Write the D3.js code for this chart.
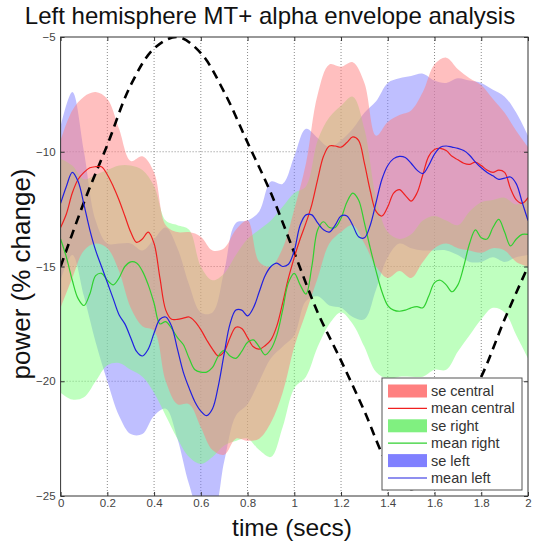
<!DOCTYPE html>
<html>
<head>
<meta charset="utf-8">
<script src="https://cdn.jsdelivr.net/npm/d3@7"></script>
<style>
  body { margin: 0; background: #fff; }
  text { font-family: "Liberation Sans", Arial, sans-serif; }
</style>
</head>
<body>
<div id="chart"></div>
<script>
// mean traces, sampled every 0.025 s from 0 to 2 s
const meanCentral = [-13.3, -12.7, -11.8, -11.2, -10.9, -10.7, -10.65, -10.65, -11.0, -11.5,
  -12.1, -12.8, -13.5, -13.95, -13.8, -13.5, -14.0, -15.5, -16.9, -17.3,
  -17.3, -17.25, -17.2, -17.4, -17.75, -18.2, -18.6, -18.9, -18.7, -18.1,
  -17.65, -17.7, -18.1, -18.5, -18.6, -18.45, -18.2, -17.6, -16.6, -15.5,
  -14.6, -13.8, -13.1, -12.3, -11.2, -10.2, -9.75, -9.75, -9.8, -9.6,
  -9.35, -9.5, -10.5, -11.7, -12.6, -12.8, -12.4, -11.8, -11.65, -11.9,
  -12.15, -11.8, -11.0, -10.2, -9.9, -9.85, -9.95, -10.2, -10.35, -10.5,
  -10.55, -10.45, -10.6, -10.8, -10.9, -10.8, -10.9, -11.6, -12.1, -12.25, -12.0];

const meanRight = [-13.8, -14.6, -15.6, -16.4, -16.7, -16.2, -15.4, -15.3, -15.6, -15.8,
  -15.5, -15.0, -14.8, -14.85, -15.2, -15.8, -16.6, -17.5, -17.4, -17.7,
  -18.1, -18.4, -19.0, -19.5, -19.6, -19.6, -19.4, -18.9, -18.65, -18.9,
  -19.0, -18.7, -18.3, -18.2, -18.5, -18.85, -18.6, -18.0, -16.9, -15.7,
  -15.3, -15.8, -16.2, -15.0, -13.4, -13.05, -13.3, -13.3, -12.9, -12.2,
  -11.8, -12.1, -13.1, -14.2, -15.2, -16.1, -16.7, -16.9, -16.95, -16.9,
  -16.8, -16.75, -16.8, -16.3, -15.7, -15.6, -15.8, -16.1, -15.8, -15.0,
  -14.0, -13.4, -13.75, -13.8, -13.3, -12.95, -13.5, -14.1, -13.8, -13.6, -13.6];

const meanLeft = [-12.25, -11.5, -10.9, -11.3, -12.3, -13.4, -14.3, -15.0, -15.7, -16.4,
  -17.1, -17.5, -18.1, -18.7, -18.9, -18.6, -17.9, -17.3, -17.2, -17.6,
  -18.6, -19.6, -20.3, -20.9, -21.3, -21.5, -21.2, -20.2, -18.8, -17.5,
  -16.9, -16.9, -17.15, -16.8, -16.1, -15.4, -15.0, -14.85, -15.0, -14.9,
  -14.3, -13.2, -12.75, -12.75, -13.1, -13.4, -13.5, -13.2, -12.8, -12.8,
  -13.2, -13.7, -13.75, -13.2, -12.2, -11.2, -10.6, -10.3, -10.2, -10.25,
  -10.5, -10.8, -10.95, -10.6, -10.1, -9.8, -9.75, -9.8, -9.85, -9.95,
  -10.15, -10.45, -10.7, -10.9, -11.05, -11.2, -11.15, -11.1, -11.4, -12.2, -13.0];

// standard error envelopes, sampled every 0.05 s
const seCentralUpper = [-9.5, -8.2, -7.6, -7.4, -7.7, -9.0, -10.4, -10.2, -10.9, -13.2,
  -13.5, -13.5, -13.7, -14.3, -14.2, -13.4, -13.0, -14.8, -15.0, -14.2,
  -12.5, -10.5, -7.5, -6.2, -6.3, -6.1, -7.0, -9.3, -8.7, -8.4,
  -8.2, -7.4, -6.2, -5.9, -6.4, -6.8, -7.1, -7.7, -8.3, -9.1, -9.8];
const seCentralLower = [-16.8, -15.5, -14.3, -14.0, -14.2, -15.2, -16.8, -17.6, -17.8, -20.0,
  -21.0, -21.0, -22.0, -23.0, -23.2, -22.5, -22.6, -22.5, -21.8, -20.5,
  -18.5, -17.0, -15.5, -14.0, -13.5, -13.2, -14.0, -15.0, -15.5, -15.2,
  -15.5, -14.8, -14.2, -14.0, -14.2, -14.3, -14.4, -14.2, -14.3, -14.8, -15.0];

const seRightUpper = [-10.3, -10.6, -11.2, -11.0, -10.8, -10.6, -10.6, -10.8, -11.5, -13.0,
  -13.2, -13.4, -15.0, -15.6, -15.3, -14.5, -13.8, -13.4, -13.0, -12.4,
  -11.8, -11.5, -9.5, -8.5, -8.0, -7.6, -9.0, -12.0, -13.5, -13.8,
  -13.6, -13.0, -12.8, -13.0, -13.2, -12.6, -12.2, -12.1, -12.0, -12.3, -12.0];
const seRightLower = [-20.5, -20.8, -20.7, -20.0, -19.3, -19.2, -19.5, -19.8, -20.5, -21.5,
  -22.5, -23.3, -23.6, -23.3, -22.8, -22.6, -22.5, -23.0, -23.3, -22.0,
  -20.3, -19.8, -18.5, -17.5, -17.0, -17.5, -18.5, -19.6, -19.9, -19.8,
  -19.8, -19.8, -19.5, -19.5, -18.7, -18.0, -17.3, -16.8, -17.0, -18.0, -19.0];

const seLeftUpper = [-8.9, -7.4, -10.0, -13.0, -14.0, -14.0, -14.0, -14.3, -13.8, -13.3,
  -14.2, -15.8, -17.0, -17.0, -15.2, -13.1, -13.0, -12.6, -11.3, -11.4,
  -10.2, -9.0, -9.4, -9.8, -9.5, -9.0, -8.3, -7.8, -7.0, -6.8,
  -6.7, -6.6, -6.9, -7.0, -6.8, -6.9, -7.0, -7.3, -7.6, -8.3, -9.3];
const seLeftLower = [-15.6, -14.5, -16.3, -18.3, -20.0, -21.5, -22.3, -22.3, -21.5, -21.2,
  -22.5, -24.5, -25.8, -25.8, -23.5, -21.5, -21.0, -20.0, -19.0, -18.5,
  -18.0, -16.5, -16.3, -16.7, -16.8, -17.2, -17.3, -16.0, -14.6, -14.0,
  -14.2, -14.3, -14.3, -14.3, -14.5, -14.8, -14.8, -14.6, -14.8, -14.6, -14.5];

// stimulus reference (dashed), every 0.1 s
const stimulus = [-15.0, -12.2, -9.7, -7.1, -5.5, -5.0, -5.7, -7.4, -9.6, -11.8,
  -14.4, -17.0, -19.1, -21.3, -23.6, -24.7, -23.6, -21.6, -19.8, -17.3, -15.0];

const xTicks = [0, 0.2, 0.4, 0.6, 0.8, 1, 1.2, 1.4, 1.6, 1.8, 2];
const yTicks = [-5, -10, -15, -20, -25];
const legendLabels = ['se central', 'mean central', 'se right', 'mean right', 'se left', 'mean left'];

const W = 559, H = 545;
const plot = { left: 60.6, right: 528, top: 37, bottom: 496 };

const svg = d3.select('#chart').append('svg')
  .attr('width', W)
  .attr('height', H);

const x = d3.scaleLinear().domain([0, 2]).range([plot.left, plot.right]);
const y = d3.scaleLinear().domain([-25, -5]).range([plot.bottom, plot.top]);

const atTime = arr => arr.map((v, i) => ({ t: i * 2 / (arr.length - 1), v }));
const band = (up, lo) => up.map((v, i) => ({ t: i * 2 / (up.length - 1), hi: v, lo: lo[i] }));

svg.append('defs').append('clipPath').attr('id', 'clip')
  .append('rect')
  .attr('x', plot.left).attr('y', plot.top)
  .attr('width', plot.right - plot.left).attr('height', plot.bottom - plot.top);

// grid
const grid = svg.append('g').attr('class', 'grid');
grid.selectAll('line.gx')
  .data(xTicks.slice(1, -1))
  .join('line')
  .attr('x1', d => x(d)).attr('x2', d => x(d))
  .attr('y1', plot.top).attr('y2', plot.bottom)
  .attr('stroke', '#8a8a8a').attr('stroke-dasharray', '1,2');
grid.selectAll('line.gy')
  .data(yTicks.slice(1, -1))
  .join('line')
  .attr('y1', d => y(d)).attr('y2', d => y(d))
  .attr('x1', plot.left).attr('x2', plot.right)
  .attr('stroke', '#8a8a8a').attr('stroke-dasharray', '1,2');

// bands (left drawn first, central on top)
const area = d3.area()
  .x(d => x(d.t))
  .y0(d => y(d.lo))
  .y1(d => y(d.hi))
  .curve(d3.curveCatmullRom.alpha(0.5));

const bands = svg.append('g').attr('clip-path', 'url(#clip)');
const bandSpec = [
  { up: seLeftUpper, lo: seLeftLower, color: '#8080ff' },
  { up: seRightUpper, lo: seRightLower, color: '#80ff80' },
  { up: seCentralUpper, lo: seCentralLower, color: '#ff8080' }
];
bands.selectAll('path')
  .data(bandSpec)
  .join('path')
  .attr('d', d => area(band(d.up, d.lo)))
  .attr('fill', d => d.color)
  .attr('fill-opacity', 0.5);

// stimulus dashed line
const line = d3.line()
  .x(d => x(d.t))
  .y(d => y(d.v))
  .curve(d3.curveCatmullRom.alpha(0.5));

svg.append('path')
  .attr('clip-path', 'url(#clip)')
  .attr('d', line(atTime(stimulus)))
  .attr('fill', 'none')
  .attr('stroke', '#000')
  .attr('stroke-width', 2.6)
  .attr('stroke-dasharray', '9,6');

// mean lines
const means = [
  { v: meanCentral, color: '#f02020' },
  { v: meanRight, color: '#30d030' },
  { v: meanLeft, color: '#2020e0' }
];
svg.append('g').attr('clip-path', 'url(#clip)')
  .selectAll('path')
  .data(means)
  .join('path')
  .attr('d', d => line(atTime(d.v)))
  .attr('fill', 'none')
  .attr('stroke', d => d.color)
  .attr('stroke-width', 1.2);

// axes, ticks pointing inward
svg.append('g')
  .attr('transform', `translate(0,${plot.bottom})`)
  .call(d3.axisBottom(x).tickValues(xTicks).tickFormat(d3.format('')).tickSize(-4).tickPadding(3));
svg.append('g')
  .attr('transform', `translate(${plot.left},0)`)
  .call(d3.axisLeft(y).tickValues(yTicks).tickFormat(d3.format('')).tickSize(-4).tickPadding(5));
svg.append('g')
  .attr('transform', `translate(0,${plot.top})`)
  .call(d3.axisTop(x).tickValues(xTicks).tickFormat('').tickSize(-4));
svg.append('g')
  .attr('transform', `translate(${plot.right},0)`)
  .call(d3.axisRight(y).tickValues(yTicks).tickFormat('').tickSize(-4));

svg.selectAll('.domain').remove();
svg.selectAll('.tick line').attr('stroke', '#333');
svg.selectAll('.tick text')
  .attr('fill', '#444')
  .style('font-size', '11.5px')
  .style('font-family', '"Liberation Sans", Arial, sans-serif');

svg.append('rect')
  .attr('x', plot.left).attr('y', plot.top)
  .attr('width', plot.right - plot.left).attr('height', plot.bottom - plot.top)
  .attr('fill', 'none')
  .attr('stroke', '#333')
  .attr('stroke-width', 1);

// titles
svg.append('text')
  .attr('x', 270).attr('y', 24)
  .attr('text-anchor', 'middle')
  .style('font-size', '24px')
  .attr('fill', '#111')
  .text('Left hemisphere MT+ alpha envelope analysis');

svg.append('text')
  .attr('x', 292).attr('y', 536)
  .attr('text-anchor', 'middle')
  .style('font-size', '24.5px')
  .attr('fill', '#111')
  .text('time (secs)');

svg.append('text')
  .attr('transform', 'translate(30,274) rotate(-90)')
  .attr('text-anchor', 'middle')
  .style('font-size', '26px')
  .attr('fill', '#111')
  .text('power (% change)');

// legend
const legend = svg.append('g').attr('transform', 'translate(382,378)');
legend.append('rect')
  .attr('width', 140).attr('height', 112)
  .attr('fill', '#fff')
  .attr('stroke', '#555');

const swatchColors = ['#ff8080', '#f02020', '#80f080', '#30d030', '#8080ff', '#2020e0'];
const row = legend.selectAll('g.row')
  .data(legendLabels)
  .join('g')
  .attr('transform', (d, i) => `translate(0,${13 + i * 17.4})`);

row.filter((d, i) => i % 2 === 0)
  .append('rect')
  .attr('x', 6).attr('y', -6.5)
  .attr('width', 39).attr('height', 13)
  .attr('fill', (d, i) => swatchColors[i * 2]);

row.filter((d, i) => i % 2 === 1)
  .append('line')
  .attr('x1', 6).attr('x2', 45)
  .attr('stroke', (d, i) => swatchColors[i * 2 + 1])
  .attr('stroke-width', 1.2);

row.append('text')
  .attr('x', 49).attr('y', 5)
  .style('font-size', '14.5px')
  .attr('fill', '#333')
  .text(d => d);
</script>
</body>
</html>
